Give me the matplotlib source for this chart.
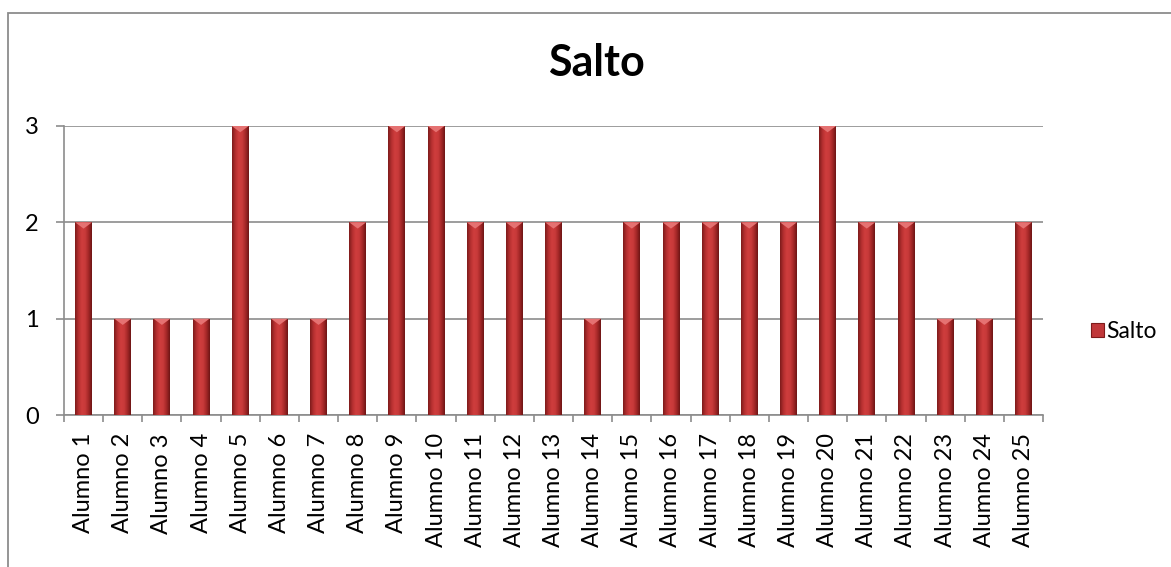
import numpy as np
import matplotlib.pyplot as plt
from matplotlib.colors import LinearSegmentedColormap
from matplotlib.patches import Rectangle, Polygon

alumnos = ['Alumno 1', 'Alumno 2', 'Alumno 3', 'Alumno 4', 'Alumno 5',
           'Alumno 6', 'Alumno 7', 'Alumno 8', 'Alumno 9', 'Alumno 10',
           'Alumno 11', 'Alumno 12', 'Alumno 13', 'Alumno 14', 'Alumno 15',
           'Alumno 16', 'Alumno 17', 'Alumno 18', 'Alumno 19', 'Alumno 20',
           'Alumno 21', 'Alumno 22', 'Alumno 23', 'Alumno 24', 'Alumno 25']
salto = [2, 1, 1, 1, 3, 1, 1, 2, 3, 3, 2, 2, 2, 1, 2, 2, 2, 2, 2, 3, 2, 2, 1, 1, 2]
y_ticks = [0, 1, 2, 3]

plt.rcParams['font.family'] = ['Lato', 'DejaVu Sans']

W, H = 1171, 567
fig = plt.figure(figsize=(W / 100, H / 100), dpi=100)

# marco del grafico (se sale por la derecha y abajo)
fig.patches.append(Rectangle((8 / W, -0.1), 1.2, 1 - 13 / H + 0.1,
                             transform=fig.transFigure, fill=False,
                             edgecolor='#8c8c8c', linewidth=1.3))

ax = fig.add_axes([64 / W, 1 - 415 / H, (1043 - 64) / W, (415 - 126) / H])

x = np.arange(len(salto))
ancho = 0.43
grad = LinearSegmentedColormap.from_list(
    'barra', ['#7e1b1b', '#b42f30', '#cf3d3d', '#c83a3a', '#a52828', '#6e1515'])
gradiente = np.linspace(0, 1, 64).reshape(1, -1)

barras = ax.bar(x, salto, width=ancho, color='#c0383a', linewidth=0, zorder=3)
for b, v in zip(barras, salto):
    x0 = b.get_x()
    im = ax.imshow(gradiente, cmap=grad, aspect='auto',
                   extent=(x0, x0 + ancho, 0, v), zorder=3.5)
    im.set_clip_path(b)
    # brillo triangular en la parte superior
    ax.add_patch(Polygon([(x0, v), (x0 + ancho, v), (x0 + ancho / 2, v - 0.065)],
                         closed=True, facecolor='#e57272', edgecolor='none', zorder=4))

ax.set_xlim(-0.5, len(salto) - 0.5)
ax.set_ylim(0, 3)
ax.set_yticks(y_ticks)
ax.set_xticks(x)
ax.set_xticklabels(alumnos, rotation=90)
ax.set_xticks(np.arange(len(salto) + 1) - 0.5, minor=True)
ax.tick_params(axis='x', which='major', length=0, pad=13, labelsize=17)
ax.tick_params(axis='x', which='minor', length=5, color='#8c8c8c', width=1.2)
ax.tick_params(axis='y', length=6, color='#8c8c8c', width=1.2, pad=12, labelsize=17)

ax.grid(axis='y', color='#8c8c8c', linewidth=1.2, zorder=0)
ax.set_axisbelow(True)
for s in ['top', 'right']:
    ax.spines[s].set_visible(False)
for s in ['left', 'bottom']:
    ax.spines[s].set_color('#8c8c8c')
    ax.spines[s].set_linewidth(1.2)

fig.text(596 / W, 1 - 63 / H, 'Salto', ha='center', va='center',
         fontsize=31, fontweight='bold')

h = Rectangle((0, 0), 1, 1, facecolor='#c0383a', edgecolor='#7e1b1b', linewidth=0.8)
fig.legend([h], ['Salto'], loc='center left', bbox_to_anchor=(1091 / W, 1 - 332 / H),
           frameon=False, fontsize=16.5, handlelength=0.55, handleheight=0.55,
           handletextpad=0.12, borderpad=0, borderaxespad=0)

fig.savefig('out.png', dpi=100)
